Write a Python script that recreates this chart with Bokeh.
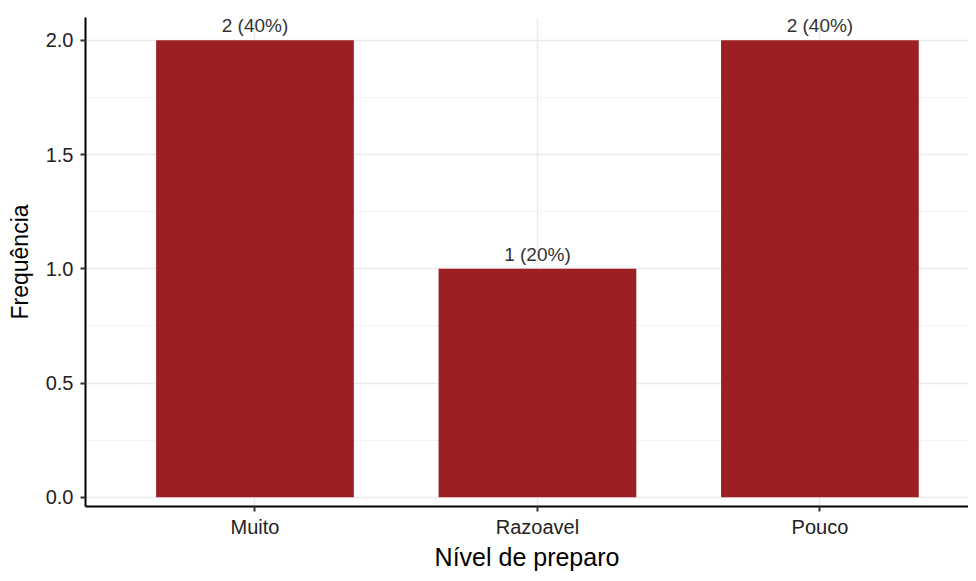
from bokeh.plotting import figure
from bokeh.models import ColumnDataSource, FixedTicker, Range1d
from bokeh.core.properties import value
from bokeh.embed import file_html
from bokeh.resources import INLINE

categories = ["Muito", "Razoavel", "Pouco"]
counts = [2, 1, 2]
labels = ["2 (40%)", "1 (20%)", "2 (40%)"]
positions = [1, 2, 3]
y_ticks = [0, 0.5, 1.0, 1.5, 2.0]
y_tick_labels = ["0.0", "0.5", "1.0", "1.5", "2.0"]

src = ColumnDataSource(dict(x=positions, y=counts, lab=labels))

p = figure(width=968, height=573, output_backend="svg", toolbar_location=None,
           x_range=Range1d(0.4, 3.526), y_range=Range1d(-0.04, 2.1),
           min_border_left=85, min_border_top=17, min_border_bottom=61, min_border_right=0)
p.outline_line_color = None
p.background_fill_color = "white"

p.vbar(x="x", top="y", bottom=0, width=0.7, source=src, color="#9B1F23", line_color=None)
p.text(x="x", y="y", text="lab", source=src, text_align="center", text_baseline="bottom",
       y_offset=-4, text_font=value("Liberation Sans"), text_font_size="19px", text_color="#333333")

p.xaxis.ticker = FixedTicker(ticks=positions)
p.xaxis.major_label_overrides = {pos: c for pos, c in zip(positions, categories)}
p.yaxis.ticker = FixedTicker(ticks=y_ticks, minor_ticks=[0.25, 0.75, 1.25, 1.75])
p.yaxis.major_label_overrides = {t: l for t, l in zip(y_ticks, y_tick_labels)}

for ax in (p.xaxis[0], p.yaxis[0]):
    ax.axis_line_color = "black"
    ax.axis_line_width = 2
    ax.major_tick_line_color = "#333333"
    ax.major_tick_line_width = 2
    ax.major_tick_out = 5
    ax.major_tick_in = 0
    ax.minor_tick_line_color = None
    ax.major_label_text_font = "Liberation Sans"
    ax.major_label_text_font_size = "20px"
    ax.major_label_text_color = "#222222"
    ax.axis_label_text_font = "Liberation Sans"
    ax.axis_label_text_font_style = "normal"
    ax.axis_label_text_color = "black"

p.xaxis.axis_label = "Nível de preparo"
p.yaxis.axis_label = "Frequência"
p.xaxis.axis_label_text_font_size = "25px"
p.yaxis.axis_label_text_font_size = "23px"
p.yaxis.major_label_standoff = 7
p.xaxis.major_label_standoff = 4
p.yaxis.axis_label_standoff = 10
p.xaxis.axis_label_standoff = 2

p.xgrid.grid_line_color = "#EBEBEB"
p.xgrid.grid_line_width = 1.5
p.ygrid.grid_line_color = "#EBEBEB"
p.ygrid.grid_line_width = 1.5
p.ygrid.minor_grid_line_color = "#F4F4F4"
p.ygrid.minor_grid_line_width = 1

open("out.html", "w").write(file_html(p, INLINE))
